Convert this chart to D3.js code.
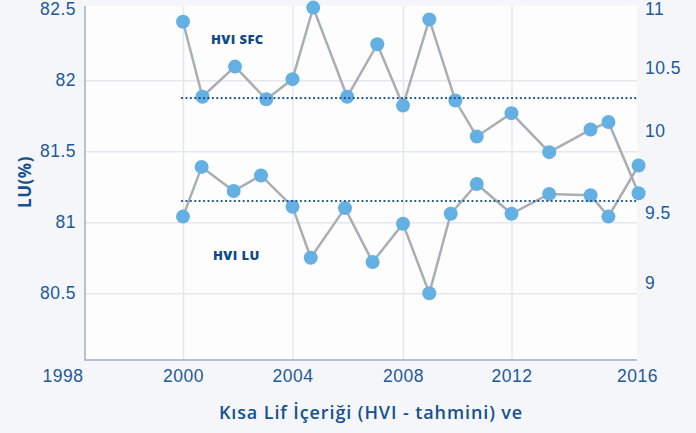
<!DOCTYPE html>
<html>
<head>
<meta charset="utf-8">
<script src="https://cdn.jsdelivr.net/npm/d3@7"></script>
<style>
  html, body { margin: 0; padding: 0; background: #f4f6f9; }
  svg { display: block; font-family: "Open Sans", sans-serif; }
  .tick text { fill: #1d5a99; font-size: 17.5px; letter-spacing: 0.5px; }
  .grid line { stroke: #e4e8ed; stroke-width: 1.5; }
</style>
</head>
<body>
<svg id="chart" width="696" height="433"></svg>
<script>
// tick labels
var xTicks = [1998, 2000, 2004, 2008, 2012, 2016];
var leftTicks = [80.5, 81, 81.5, 82, 82.5];
var rightTicks = [9, 9.5, 10, 10.5, 11];

// HVI SFC (right axis)
var sfcYears = [2000, 2000.71, 2001.9, 2003.04, 2004, 2004.75, 2005.98, 2007.07, 2008,
                2008.97, 2009.93, 2010.72, 2012, 2013.2, 2014.52, 2015.09, 2016.05];
var sfcValues = [10.89, 10.27, 10.51, 10.25, 10.41, 11.01, 10.27, 10.70, 10.2,
                 10.91, 10.24, 9.965, 10.14, 9.87, 10.01, 10.07, 9.62];
var sfcRef = 10.26;

// HVI LU (left axis)
var luYears = [2000, 2000.68, 2001.85, 2002.85, 2004, 2004.66, 2005.9, 2006.9, 2008,
               2008.97, 2009.76, 2010.72, 2012, 2013.2, 2014.52, 2015.09, 2016.05];
var luValues = [81.04, 81.39, 81.22, 81.33, 81.11, 80.75, 81.1, 80.72, 80.99,
                80.5, 81.06, 81.27, 81.06, 81.2, 81.19, 81.04, 81.4];
var luRef = 81.15;

var labels = ['HVI SFC', 'HVI LU'];
var yTitle = 'LU(%)';
var xTitle = 'Kısa Lif İçeriği (HVI - tahmini) ve';

drawChart();

function drawChart(){
    var svg = d3.select('#chart');
    var plot = {left: 85, right: 637, top: 6, bottom: 360};
    var fmt = function(d){ return String(d) };

    // scales (the picture's axes are not evenly spaced, so piecewise)
    var x = d3.scaleLinear()
        .domain(xTicks)
        .range([62.5, 183, 292.5, 403, 511.5, 637]);
    var yL = d3.scaleLinear()
        .domain([80.5, 82])
        .range([293.3, 80.3]);
    var yR = d3.scaleLinear()
        .domain(rightTicks)
        .range([283, 213, 130.8, 67.8, 8.8]);

    // plot background
    svg.append('rect')
        .attr('x', plot.left).attr('y', plot.top)
        .attr('width', plot.right - plot.left)
        .attr('height', plot.bottom - plot.top)
        .attr('fill', '#fdfdfd');

    // gridlines
    svg.append('g')
        .attr('class', 'grid')
        .attr('transform', 'translate(' + plot.left + ',0)')
        .call(d3.axisLeft(yL)
            .tickValues(leftTicks.filter(function(d){ return d < 82.5 }))
            .tickSize(-(plot.right - plot.left))
            .tickFormat(''))
        .call(function(g){ g.select('.domain').remove() });
    svg.append('g')
        .attr('class', 'grid')
        .attr('transform', 'translate(0,' + plot.bottom + ')')
        .call(d3.axisBottom(x)
            .tickValues(xTicks.filter(function(d){ return d > 1998 && d < 2016 }))
            .tickSize(-(plot.bottom - plot.top))
            .tickFormat(''))
        .call(function(g){ g.select('.domain').remove() });

    // frame lines
    svg.append('path')
        .attr('d', 'M' + plot.left + ',' + plot.top + 'V' + plot.bottom + 'H' + plot.right)
        .attr('fill', 'none')
        .attr('stroke', '#9fb0c2')
        .attr('stroke-width', 1.5);

    // axes
    var xAxis = svg.append('g')
        .attr('transform', 'translate(0,' + (plot.bottom + 6) + ')')
        .call(d3.axisBottom(x).tickValues(xTicks).tickFormat(d3.format('d')).tickSize(0));
    xAxis.select('.domain').remove();
    xAxis.selectAll('text').attr('dy', '0.71em').attr('y', 4);

    var yAxisL = svg.append('g')
        .attr('transform', 'translate(' + (plot.left - 6) + ',0)')
        .call(d3.axisLeft(yL).tickValues(leftTicks).tickFormat(fmt).tickSize(0));
    yAxisL.select('.domain').remove();

    var yAxisR = svg.append('g')
        .attr('transform', 'translate(' + (plot.right + 5) + ',0)')
        .call(d3.axisRight(yR).tickValues(rightTicks).tickFormat(fmt).tickSize(0));
    yAxisR.select('.domain').remove();

    // series
    var sfc = sfcYears.map(function(d, i){ return {x: d, y: sfcValues[i]} });
    var lu = luYears.map(function(d, i){ return {x: d, y: luValues[i]} });

    var lineSfc = d3.line().x(function(d){ return x(d.x) }).y(function(d){ return yR(d.y) });
    var lineLu = d3.line().x(function(d){ return x(d.x) }).y(function(d){ return yL(d.y) });

    svg.append('path').datum(sfc)
        .attr('d', lineSfc)
        .attr('fill', 'none').attr('stroke', '#a9aeb3').attr('stroke-width', 2.5);
    svg.append('path').datum(lu)
        .attr('d', lineLu)
        .attr('fill', 'none').attr('stroke', '#a9aeb3').attr('stroke-width', 2.5);

    svg.selectAll('.dot-sfc').data(sfc).enter()
        .append('circle')
        .attr('class', 'dot-sfc')
        .attr('cx', function(d){ return x(d.x) })
        .attr('cy', function(d){ return yR(d.y) })
        .attr('r', 7)
        .attr('fill', '#65b0e2');
    svg.selectAll('.dot-lu').data(lu).enter()
        .append('circle')
        .attr('class', 'dot-lu')
        .attr('cx', function(d){ return x(d.x) })
        .attr('cy', function(d){ return yL(d.y) })
        .attr('r', 7)
        .attr('fill', '#65b0e2');

    // dotted reference lines
    var refs = [
        {y: yR(sfcRef)},
        {y: yL(luRef)}
    ];
    svg.selectAll('.ref').data(refs).enter()
        .append('line')
        .attr('class', 'ref')
        .attr('x1', x(2000) - 1).attr('x2', plot.right)
        .attr('y1', function(d){ return d.y }).attr('y2', function(d){ return d.y })
        .attr('stroke', '#17508e')
        .attr('stroke-width', 2.2)
        .attr('stroke-linecap', 'round')
        .attr('stroke-dasharray', '0.1 4.3');

    // series labels
    svg.append('text')
        .attr('x', 211).attr('y', 39.5).attr('dy', '0.35em')
        .attr('fill', '#0f4a8a').attr('font-size', 13).attr('font-weight', 800)
        .attr('letter-spacing', 0.4)
        .text(labels[0]);
    svg.append('text')
        .attr('x', 213).attr('y', 255).attr('dy', '0.35em')
        .attr('fill', '#0f4a8a').attr('font-size', 13).attr('font-weight', 800)
        .attr('letter-spacing', 0.4)
        .text(labels[1]);

    // axis titles
    svg.append('text')
        .attr('transform', 'translate(25,182) rotate(-90)')
        .attr('text-anchor', 'middle').attr('dy', '0.35em')
        .attr('fill', '#17508e').attr('font-size', 17).attr('font-weight', 700)
        .attr('letter-spacing', 0.5)
        .text(yTitle);
    svg.append('text')
        .attr('x', 371).attr('y', 413).attr('dy', '0.35em')
        .attr('text-anchor', 'middle')
        .attr('fill', '#17508e').attr('font-size', 18).attr('font-weight', 600)
        .attr('letter-spacing', 0.9)
        .text(xTitle);
}
</script>
</body>
</html>
